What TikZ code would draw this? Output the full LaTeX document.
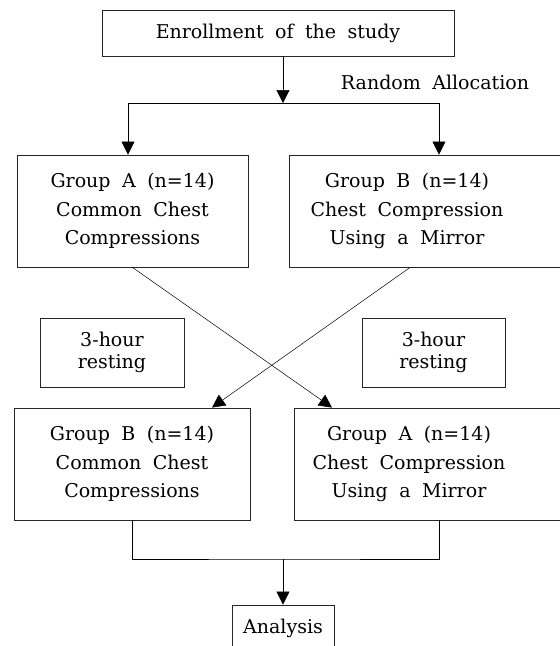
\documentclass[tikz,border=0pt]{standalone}
\usepackage{fontspec}
\setmainfont[WordSpace=1.9]{DejaVu Serif}
\usetikzlibrary{arrows.meta}

\newcommand\grpfont{\fontsize{19}{28.5}\selectfont}
\newcommand\restfont{\fontsize{19}{22.5}\selectfont}

\tikzset{
  box/.style={draw=black!85, line width=0.9pt, align=center, inner sep=0pt},
  grp/.style={box, minimum height=112pt, font=\grpfont},
  grptext/.style={align=center, font=\grpfont, xshift=-21pt},
  rest/.style={box, minimum height=69pt, font=\restfont},
  arr/.style={-{Triangle[length=13pt,width=13pt]}, line width=0.5pt},
  link/.style={line width=0.5pt},
}

\begin{document}
\begin{tikzpicture}[x=1pt,y=-1pt,font=\grpfont]
  \useasboundingbox (0,0) rectangle (560,646);
  % enrollment and allocation
  \node[box, minimum width=352pt, minimum height=46pt] (enroll) at (278,33) {Enrollment of the study};
  \node (alloc) at (435,82) {Random Allocation};
  \coordinate (split) at (283,103);
  % first period
  \node[grp, minimum width=231pt] (grpA) at (132.5,211) {Group A (n=14)\\Common Chest\\Compressions};
  \node[grp, minimum width=278pt, label={[grptext]center:Group B (n=14)\\Chest Compression\\Using a Mirror}] (grpB) at (428,211) {};
  % wash-out
  \node[rest, minimum width=144pt] (restL) at (112,352.5) {3-hour\\resting};
  \node[rest, minimum width=143pt] (restR) at (433.5,352.5) {3-hour\\resting};
  % second period
  \node[grp, minimum width=236pt] (grpB2) at (132,464) {Group B (n=14)\\Common Chest\\Compressions};
  \node[grp, minimum width=272pt, label={[grptext]center:Group A (n=14)\\Chest Compression\\Using a Mirror}] (grpA2) at (430,464) {};
  \coordinate (merge) at (283,559);
  \node[box, minimum width=102pt, minimum height=46pt] (analysis) at (283,628) {Analysis};

  \draw[arr] (split |- enroll.south) -- (split);
  \draw[arr, link] (split) -| ([xshift=-4.5pt]grpA.north);
  \draw[arr, link] (split) -| ([xshift=11pt]grpB.north);
  % cross-over
  \draw[arr] (grpA.south) -- ([xshift=-98pt]grpA2.north);
  \draw[arr] ([xshift=-18pt]grpB.south) -- ([xshift=80pt]grpB2.north);
  \draw[link] (grpB2.south) |- (merge) -| ([xshift=9pt]grpA2.south);
  \draw[arr] (merge) -- (analysis);
\end{tikzpicture}
\end{document}
